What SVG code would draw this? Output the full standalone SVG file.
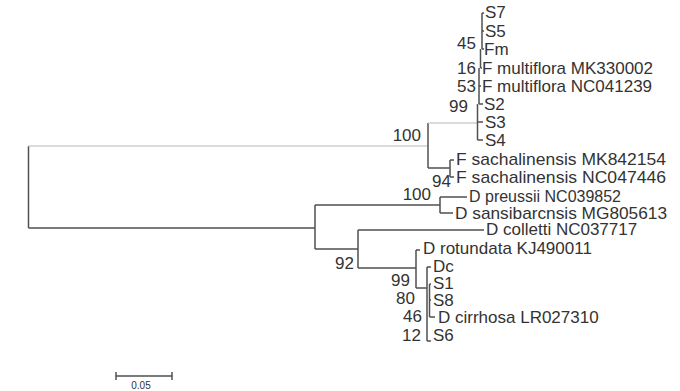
<svg xmlns="http://www.w3.org/2000/svg" width="680" height="391" viewBox="0 0 680 391">
<style>
.br{fill:none;stroke:#505050;stroke-width:1.5}
.lt{fill:none;stroke:#cfcfcf;stroke-width:1.5}
text{font-family:"Liberation Sans",Arial,sans-serif;font-size:17px;fill:#333}
.bs{text-anchor:end}
.sc{font-size:10px;text-anchor:middle}
</style>
<rect width="680" height="391" fill="#fff"/>
<g id="connectors">
<path class="br" d="M28.5 146V228"/>
<path class="lt" d="M28.5 146H428"/>
<path class="br" d="M428 123V168"/>
<path class="lt" d="M428 123H477.5"/>
<path class="br" d="M477.5 104V140M477.5 122H483M477.5 140H483"/>
<path class="br" d="M479 68V104M479 104H483M479 86H481"/>
<path class="br" d="M480.5 49V68M480.5 68H482"/>
<path class="br" d="M482 13V49M482 13H484M482 31H484M482 49H484"/>
<path class="br" d="M428 168H450M450 160V177M450 160H454M450 177H454"/>
<path class="br" d="M28.5 228H315M315 205V249"/>
<path class="br" d="M315 205H440M440 197V213M440 197H467M440 213H453"/>
<path class="br" d="M315 249H358M358 230V268M358 230H484M358 268H416"/>
<path class="br" d="M416 250V288M416 250H420M416 288H427"/>
<path class="br" d="M427 267V341M427 267H431M427 341H431"/>
<path class="br" d="M429.5 284V317M429.5 284H431M429.5 300H431M429.5 317H435"/>
</g>
<g id="top-clade">
<text x="485" y="18">S7</text>
<text x="485" y="37">S5</text>
<text x="484" y="55">Fm</text>
<text x="482" y="74">F multiflora MK330002</text>
<text x="482" y="92">F multiflora NC041239</text>
<text x="484" y="110">S2</text>
<text x="485" y="128">S3</text>
<text x="485" y="146">S4</text>
<text class="bs" x="476" y="49">45</text>
<text class="bs" x="476" y="74">16</text>
<text class="bs" x="476" y="92">53</text>
<text class="bs" x="468" y="112">99</text>
<text class="bs" x="421" y="141">100</text>
</g>
<g id="sachalinensis">
<text x="456" y="165" textLength="210" lengthAdjust="spacingAndGlyphs">F sachalinensis MK842154</text>
<text x="456" y="183" textLength="210" lengthAdjust="spacingAndGlyphs">F sachalinensis NC047446</text>
<text class="bs" x="451" y="187">94</text>
</g>
<g id="bottom-clade">
<text class="bs" x="431" y="200">100</text>
<text x="469" y="202" textLength="152" lengthAdjust="spacingAndGlyphs">D preussii NC039852</text>
<text x="455" y="219" textLength="212" lengthAdjust="spacingAndGlyphs">D sansibarcnsis MG805613</text>
<text x="486" y="235">D colletti NC037717</text>
<text x="423" y="254">D rotundata KJ490011</text>
<text class="bs" x="354" y="269">92</text>
<text x="433" y="272">Dc</text>
<text class="bs" x="410" y="286">99</text>
<text x="433" y="289">S1</text>
<text class="bs" x="415" y="304">80</text>
<text x="433" y="306">S8</text>
<text class="bs" x="422" y="322">46</text>
<text x="438" y="323">D cirrhosa LR027310</text>
<text class="bs" x="421" y="341">12</text>
<text x="433" y="341">S6</text>
</g>
<g id="scale">
<path class="br" d="M116 376H172M116 372V380M172 372V380"/>
<text class="sc" x="141" y="389">0.05</text>
</g>
</svg>
